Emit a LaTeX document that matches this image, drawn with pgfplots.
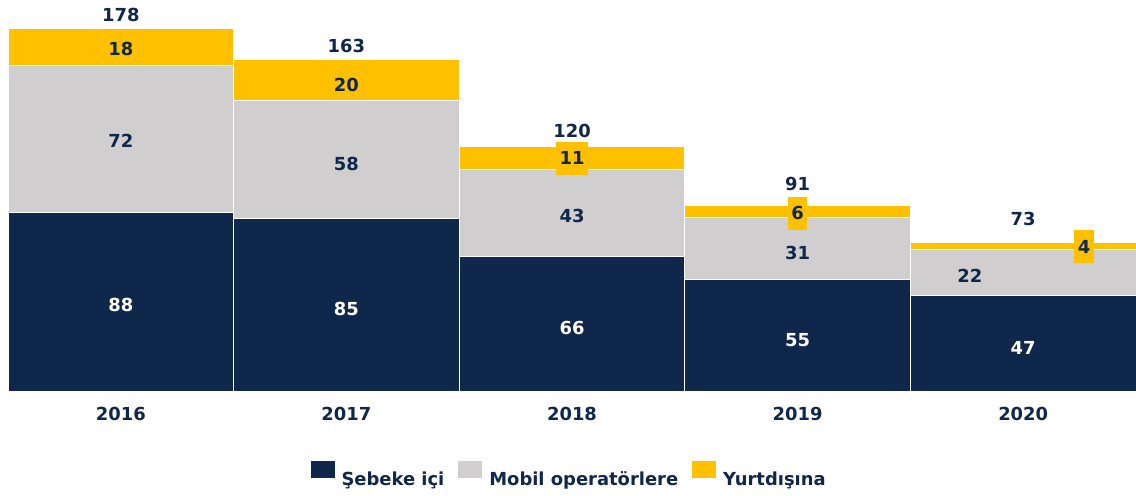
\documentclass[border=0pt]{standalone}
\usepackage{fontspec}
\setmainfont{DejaVu Sans}
\usepackage{pgfplots}
\pgfplotsset{compat=1.18}
\definecolor{navy}{RGB}{15,39,74}
\definecolor{lgray}{RGB}{208,206,206}
\definecolor{gold}{RGB}{255,192,0}
\definecolor{axgray}{RGB}{191,191,191}
\newcommand\lbl{\fontsize{18}{21}\selectfont\bfseries}
\begin{document}
\begin{tikzpicture}
\begin{axis}[
  name=ax,
  scale only axis, width=1128bp, height=391bp,
  xmin=-0.5, xmax=4.5, ymin=0, ymax=192.23,
  ybar stacked, bar width=1,
  axis y line=none,
  axis x line*=bottom,
  x axis line style={axgray, line width=0.8bp},
  xtick={0,1,2,3,4}, xticklabels={2016,2017,2018,2019,2020},
  major tick length=0pt,
  xticklabel style={font=\lbl, text=navy, yshift=-13bp},
  legend style={at={(0.497,-0.2143)}, anchor=center, draw=none, fill=none,
    legend columns=-1, font=\lbl, text=navy,
    /tikz/every even column/.append style={column sep=11bp}},
  legend image code/.code={\fill[#1] (0bp,1bp) rectangle (25bp,19bp); \path (0bp,0bp) -- (29bp,0bp);},
  clip=false,
]
\addplot[fill=navy, draw=white, line width=1bp] coordinates {(0,88) (1,85) (2,66) (3,55) (4,47)};
\addplot[fill=lgray, draw=white, line width=1bp] coordinates {(0,72) (1,58) (2,43) (3,30.5) (4,22.5)};
\addplot[fill=gold, draw=white, line width=1bp] coordinates {(0,18) (1,20) (2,11) (3,5.5) (4,3.5)};
\legend{Şebeke içi, Mobil operatörlere, Yurtdışına}
\coordinate (t0) at (axis cs:0,184.9);
\coordinate (t1) at (axis cs:1,169.6);
\coordinate (t2) at (axis cs:2,127.8);
\coordinate (t3) at (axis cs:3,101.8);
\coordinate (t4) at (axis cs:4,84.6);
\coordinate (y0) at (axis cs:0,168.1);
\coordinate (y1) at (axis cs:1,150.4);
\coordinate (y2) at (axis cs:2,114.4);
\coordinate (y3) at (axis cs:3,87.5);
\coordinate (y4) at (axis cs:4.27,70.8);
\coordinate (g0) at (axis cs:0,122.9);
\coordinate (g1) at (axis cs:1,111.6);
\coordinate (g2) at (axis cs:2,86.0);
\coordinate (g3) at (axis cs:3,67.8);
\coordinate (g4) at (axis cs:3.764,56.5);
\coordinate (n0) at (axis cs:0,42.3);
\coordinate (n1) at (axis cs:1,40.3);
\coordinate (n2) at (axis cs:2,31.0);
\coordinate (n3) at (axis cs:3,25.1);
\coordinate (n4) at (axis cs:4,21.1);
\end{axis}
\begin{scope}[every node/.style={font=\lbl, text=navy}]
\node at (t0) {178};
\node at (t1) {163};
\node at (t2) {120};
\node at (t3) {91};
\node at (t4) {73};
\node at (y0) {18};
\node at (y1) {20};
\node[fill=gold, inner xsep=4bp, inner ysep=0pt, minimum height=33bp] at (y2) {11};
\node[fill=gold, inner xsep=3.5bp, inner ysep=0pt, minimum height=33bp] at (y3) {6};
\node[fill=gold, inner xsep=3.5bp, inner ysep=0pt, minimum height=33bp] at (y4) {4};
\node at (g0) {72};
\node at (g1) {58};
\node at (g2) {43};
\node at (g3) {31};
\node at (g4) {22};
\node[text=white] at (n0) {88};
\node[text=white] at (n1) {85};
\node[text=white] at (n2) {66};
\node[text=white] at (n3) {55};
\node[text=white] at (n4) {47};
\end{scope}
\pgfresetboundingbox
\path[use as bounding box] ([xshift=-8bp,yshift=-104bp]ax.south west) rectangle (ax.north east);
\end{tikzpicture}
\end{document}
